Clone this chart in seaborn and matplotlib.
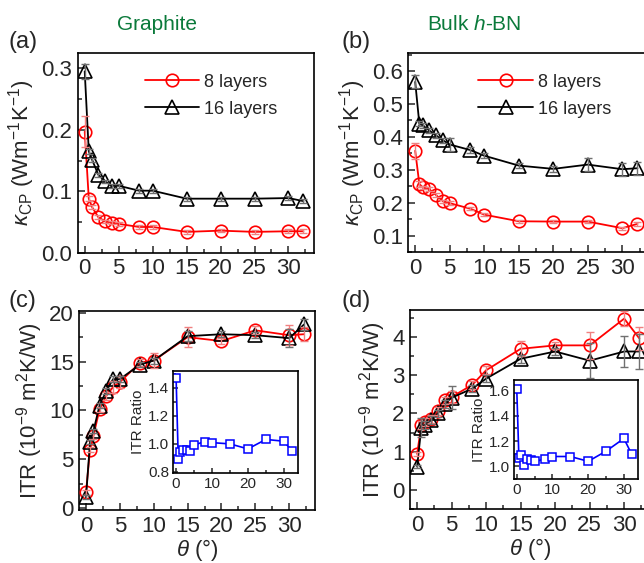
import numpy as np
import matplotlib
matplotlib.use('Agg')
import matplotlib.pyplot as plt
import seaborn as sns

sns.set_style('ticks')
plt.rcParams['font.family'] = ['Liberation Sans', 'DejaVu Sans']
plt.rcParams['mathtext.fontset'] = 'custom'
plt.rcParams['mathtext.rm'] = 'Liberation Sans'
plt.rcParams['mathtext.it'] = 'Liberation Sans:italic'
plt.rcParams['mathtext.bf'] = 'Liberation Sans:bold'

# twist angles (deg)
angles = [0, 0.6, 1.1, 2, 3, 4, 5, 8, 10, 15, 20, 25, 30, 32.2]

# (a) graphite thermal conductance kappa_CP
gr_k8 = [0.197, 0.088, 0.074, 0.058, 0.051, 0.049, 0.047, 0.042, 0.042, 0.034, 0.036, 0.034, 0.035, 0.035]
gr_k8_err = [0.025, 0.004, 0.003, 0.003, 0.003, 0.003, 0.003, 0.003, 0.003, 0.003, 0.003, 0.003, 0.003, 0.003]
gr_k16 = [0.295, 0.165, 0.151, 0.127, 0.116, 0.109, 0.109, 0.101, 0.101, 0.088, 0.088, 0.088, 0.089, 0.084]
gr_k16_err = [0.012, 0.004, 0.003, 0.003, 0.003, 0.003, 0.003, 0.003, 0.003, 0.003, 0.003, 0.003, 0.003, 0.003]

# (b) h-BN thermal conductance
bn_k8 = [0.358, 0.257, 0.247, 0.242, 0.224, 0.205, 0.199, 0.182, 0.164, 0.144, 0.143, 0.143, 0.123, 0.136]
bn_k8_err = [0.025, 0.008, 0.005, 0.005, 0.005, 0.005, 0.005, 0.005, 0.005, 0.005, 0.005, 0.005, 0.005, 0.005]
bn_k16 = [0.567, 0.44, 0.435, 0.42, 0.405, 0.39, 0.377, 0.36, 0.343, 0.313, 0.303, 0.316, 0.302, 0.305]
bn_k16_err = [0.02, 0.008, 0.008, 0.008, 0.008, 0.008, 0.02, 0.008, 0.008, 0.008, 0.008, 0.02, 0.02, 0.02]

# (c) graphite ITR
gr_itr8 = [1.6, 6.0, 7.4, 10.1, 11.5, 12.4, 12.9, 14.9, 15.1, 17.5, 17.1, 18.2, 17.7, 17.8]
gr_itr8_err = [0.3, 0.3, 0.3, 0.3, 0.4, 0.6, 0.6, 0.4, 0.8, 1.0, 0.3, 0.4, 1.0, 0.7]
gr_itr16 = [1.1, 6.8, 7.9, 10.5, 12.0, 13.2, 13.2, 14.7, 15.1, 17.6, 17.8, 17.7, 17.4, 18.8]
gr_itr16_err = [0.2, 0.2, 0.2, 0.3, 0.3, 0.3, 0.3, 0.3, 0.3, 0.5, 0.3, 0.3, 0.9, 0.6]
gr_ratio = [1.47, 0.89, 0.94, 0.955, 0.955, 0.95, 0.99, 1.015, 1.007, 0.998, 0.962, 1.03, 1.017, 0.95]

# (d) h-BN ITR
bn_itr8 = [0.94, 1.69, 1.78, 1.86, 2.06, 2.34, 2.43, 2.75, 3.13, 3.69, 3.78, 3.78, 4.48, 3.96]
bn_itr8_err = [0.05, 0.1, 0.1, 0.1, 0.1, 0.1, 0.15, 0.1, 0.1, 0.2, 0.1, 0.35, 0.2, 0.3]
bn_itr16 = [0.61, 1.62, 1.69, 1.82, 2.0, 2.25, 2.41, 2.65, 2.91, 3.43, 3.62, 3.38, 3.62, 3.62]
bn_itr16_err = [0.05, 0.25, 0.1, 0.1, 0.1, 0.1, 0.3, 0.1, 0.1, 0.1, 0.1, 0.45, 0.4, 0.45]
bn_ratio = [1.606, 1.063, 1.089, 1.013, 1.057, 1.05, 1.04, 1.057, 1.078, 1.078, 1.04, 1.12, 1.22, 1.094]

kappa_label = r'$\kappa_{\mathrm{CP}}$ (Wm$^{-1}$K$^{-1}$)'
itr_label = r'ITR (10$^{-9}$ m$^{2}$K/W)'
theta_label = r'$\theta$ (°)'


def style_axis(ax, xmajor=5, ymajor=None, size=16):
    for s in ax.spines.values():
        s.set_linewidth(1.2)
        s.set_color('black')
    ax.tick_params(which='both', direction='in', top=False, right=False, labelsize=size, width=1.1, pad=4)
    ax.tick_params(which='major', length=5)
    ax.tick_params(which='minor', length=3)
    ax.xaxis.set_major_locator(plt.MultipleLocator(xmajor))
    ax.xaxis.set_minor_locator(plt.MultipleLocator(xmajor / 2))
    if ymajor is not None:
        ax.yaxis.set_major_locator(plt.MultipleLocator(ymajor))
        ax.yaxis.set_minor_locator(plt.MultipleLocator(ymajor / 2))


def draw_pair(ax, y8, e8, y16, e16, legend=False):
    ax.errorbar(angles, y8, yerr=e8, fmt='none', ecolor='#f08080', elinewidth=1, capsize=3, zorder=4)
    ax.errorbar(angles, y16, yerr=e16, fmt='none', ecolor='#707070', elinewidth=1, capsize=3, zorder=4)
    sns.lineplot(x=angles, y=y8, ax=ax, color='red', marker='o', markersize=9, markerfacecolor='none',
                 markeredgecolor='red', markeredgewidth=1.2, linewidth=1.3, label='8 layers', zorder=3,
                 legend=legend)
    sns.lineplot(x=angles, y=y16, ax=ax, color='black', marker='^', markersize=10, markerfacecolor='none',
                 markeredgecolor='black', markeredgewidth=1.2, linewidth=1.3, label='16 layers', zorder=3,
                 legend=legend)
    if legend:
        ax.legend(loc='upper right', frameon=False, fontsize=13, handlelength=3.0, handletextpad=0.3,
                  labelspacing=0.55, borderaxespad=0.2, bbox_to_anchor=(0.89, 0.95))


fig = plt.figure(figsize=(6.44, 5.63), dpi=100)

# (a)
ax_a = fig.add_axes([0.121, 0.551, 0.367, 0.355])
draw_pair(ax_a, gr_k8, gr_k8_err, gr_k16, gr_k16_err, legend=True)
ax_a.set_xlim(-1, 33.8)
ax_a.set_ylim(0, 0.325)
style_axis(ax_a, ymajor=0.1)
ax_a.yaxis.set_major_formatter(plt.FormatStrFormatter('%.1f'))
ax_a.set_ylabel(kappa_label, fontsize=16, labelpad=3)

# (b)
ax_b = fig.add_axes([0.634, 0.552, 0.373, 0.354])
draw_pair(ax_b, bn_k8, bn_k8_err, bn_k16, bn_k16_err, legend=True)
ax_b.set_xlim(-1, 33.8)
ax_b.set_ylim(0.05, 0.655)
style_axis(ax_b, ymajor=0.1)
ax_b.yaxis.set_major_formatter(plt.FormatStrFormatter('%.1f'))
ax_b.set_ylabel(kappa_label, fontsize=16, labelpad=3)

# (c)
ax_c = fig.add_axes([0.123, 0.094, 0.366, 0.354])
draw_pair(ax_c, gr_itr8, gr_itr8_err, gr_itr16, gr_itr16_err)
ax_c.set_xlim(-1, 33.8)
ax_c.set_ylim(-0.2, 20.2)
style_axis(ax_c, ymajor=5)
ax_c.set_ylabel(itr_label, fontsize=16, labelpad=3)
ax_c.set_xlabel(theta_label, fontsize=16, labelpad=0)

# (d)
ax_d = fig.add_axes([0.637, 0.096, 0.373, 0.353])
draw_pair(ax_d, bn_itr8, bn_itr8_err, bn_itr16, bn_itr16_err)
ax_d.set_xlim(-1, 33.8)
ax_d.set_ylim(-0.5, 4.7)
style_axis(ax_d, ymajor=1)
ax_d.set_ylabel(itr_label, fontsize=16, labelpad=3)
ax_d.set_xlabel(theta_label, fontsize=16, labelpad=0)

# insets with ITR ratio
for rect, ratio, ylim, ymaj in [([0.269, 0.160, 0.194, 0.181], gr_ratio, (0.79, 1.52), 0.2),
                                ([0.798, 0.149, 0.193, 0.176], bn_ratio, (0.9, 1.68), 0.2)]:
    axi = fig.add_axes(rect)
    sns.lineplot(x=angles, y=ratio, ax=axi, color='blue', marker='s', markersize=6,
                 markerfacecolor='white', markeredgecolor='blue', markeredgewidth=1.1, linewidth=1.2)
    axi.set_xlim(-0.8, 34)
    axi.set_ylim(*ylim)
    style_axis(axi, xmajor=10, ymajor=ymaj, size=11)
    axi.tick_params(which='major', length=3.5, pad=3)
    axi.tick_params(which='minor', length=2)
    axi.yaxis.set_major_formatter(plt.FormatStrFormatter('%.1f'))
    axi.set_ylabel('ITR Ratio', fontsize=11, labelpad=2)

# titles and panel labels
green = '#0b7a3b'
fig.text(0.244, 0.956, 'Graphite', color=green, fontsize=15, ha='center', va='center')
fig.text(0.736, 0.956, r'Bulk $\mathit{h}$-BN', color=green, fontsize=15, ha='center', va='center')
fig.text(0.013, 0.925, '(a)', fontsize=17, ha='left', va='center')
fig.text(0.530, 0.925, '(b)', fontsize=17, ha='left', va='center')
fig.text(0.013, 0.466, '(c)', fontsize=17, ha='left', va='center')
fig.text(0.530, 0.466, '(d)', fontsize=17, ha='left', va='center')

fig.savefig('out.png', dpi=100)
